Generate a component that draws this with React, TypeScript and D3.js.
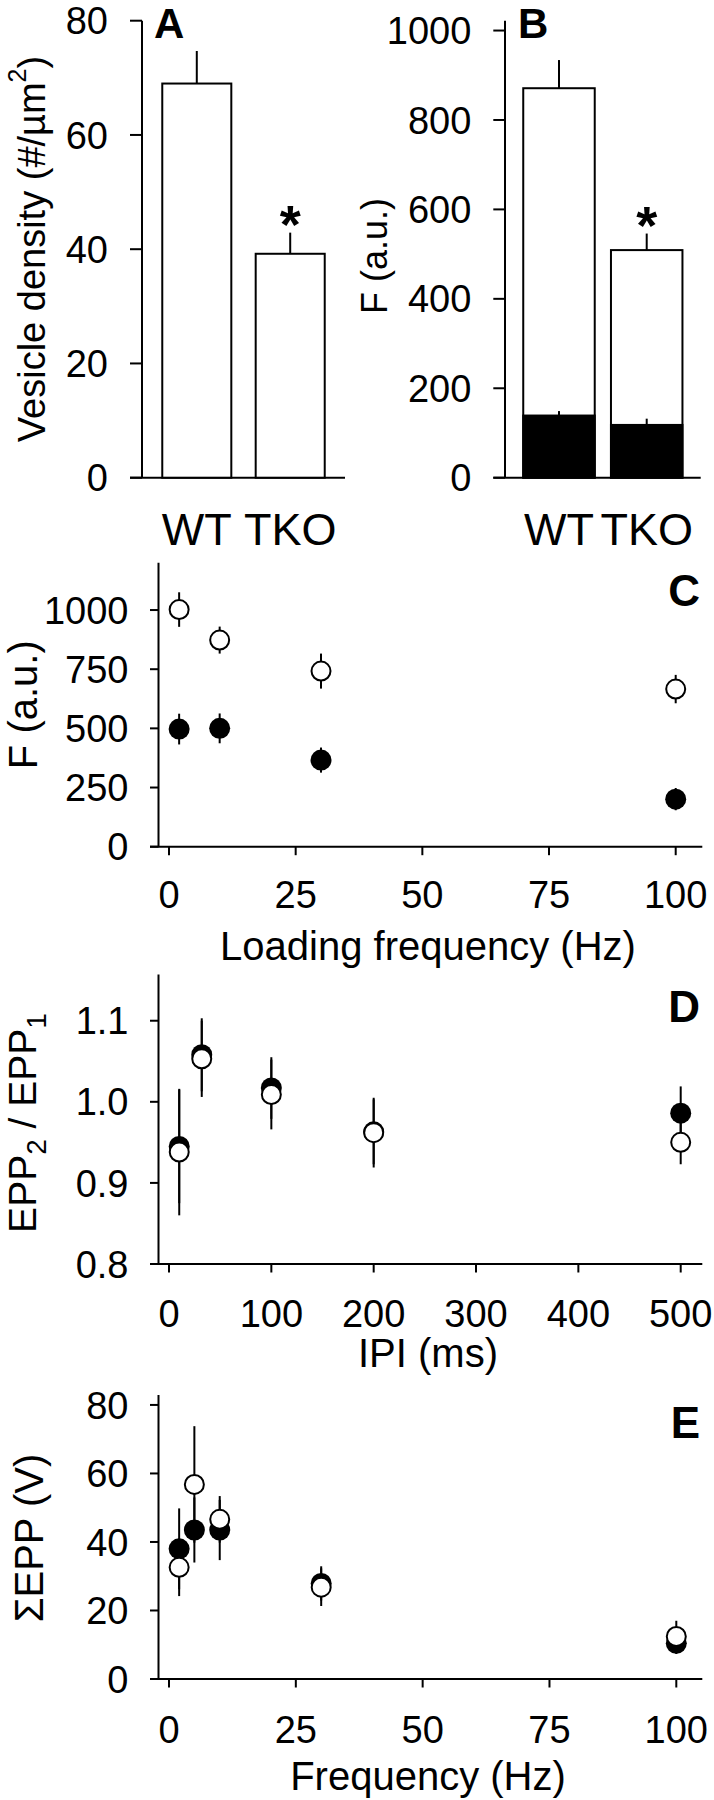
import React from "react";
import * as d3 from "d3";

const FONT = "'Liberation Sans', Arial, Helvetica, sans-serif";

// ---------- Data ----------
// Panel A
const groupsAB = ["WT", "TKO"];
const vesicleDensity = [69.0, 39.2];
const vesicleDensityErr = [5.7, 3.7];
const ticksA = [0, 20, 40, 60, 80];

// Panel B
const fTotal = [871, 509];
const fTotalErr = [63, 37];
const fBlack = [139, 118];
const fBlackErr = [10, 14];
const ticksB = [0, 200, 400, 600, 800, 1000];

// Panel C
const loadFreq = [2, 10, 30, 100];
const cOpen = [1002, 873, 742, 666];
const cOpenErr = [73, 57, 74, 60];
const cFilled = [497, 500, 366, 201];
const cFilledErr = [65, 63, 53, 47];
const ticksCx = [0, 25, 50, 75, 100];
const ticksCy = [0, 250, 500, 750, 1000];

// Panel D
const ipi = [10, 32, 100, 200, 500];
const dFilled = [0.945, 1.058, 1.017, 0.963, 0.986];
const dFilledErr = [0.07, 0.045, 0.038, 0.04, 0.033];
const dOpen = [0.938, 1.053, 1.009, 0.962, 0.95];
const dOpenErr = [0.078, 0.047, 0.043, 0.043, 0.027];
const ticksDx = [0, 100, 200, 300, 400, 500];
const ticksDy = [0.8, 0.9, 1.0, 1.1];

// Panel E
const stimFreq = [2, 5, 10, 30, 100];
const eFilled = [38, 43.5, 43.5, 27.9, 10.4];
const eFilledErr = [11.8, 9.5, 8.8, 5, 3.1];
const eOpen = [32.6, 56.8, 46.6, 26.8, 12.4];
const eOpenErr = [8.4, 17, 6.8, 5.5, 4.6];
const ticksEx = [0, 25, 50, 75, 100];
const ticksEy = [0, 20, 40, 60, 80];

const SW = 2;

function BarPanel(props: any) {
  const { y, x, ticks, axisX, axisLeft, axisRight, tickFs, children, ylabel, letter } = props;
  const y0 = y.range()[0];
  const yTop = y.range()[1];
  return (
    <g>
      <line x1={axisX} x2={axisX} y1={y0} y2={yTop} stroke="#000" strokeWidth={SW} />
      <line x1={axisLeft} x2={axisRight} y1={y0} y2={y0} stroke="#000" strokeWidth={SW} />
      {ticks.map((t: number) => (
        <g key={t}>
          <line x1={axisLeft} x2={axisX} y1={y(t)} y2={y(t)} stroke="#000" strokeWidth={SW} />
          <text x={axisLeft - 22} y={y(t)} dy="0.358em" textAnchor="end" fontSize={tickFs}>
            {t}
          </text>
        </g>
      ))}
      {children}
      {groupsAB.map((g) => (
        <text key={g} x={(x(g) as number) + x.bandwidth() / 2} y={545} textAnchor="middle" fontSize={45}>
          {g}
        </text>
      ))}
      {ylabel}
      {letter}
    </g>
  );
}

function Asterisk({ cx, errTop }: { cx: number; errTop: number }) {
  const fs = 54;
  return (
    <text x={cx} y={errTop - 20 + 0.56 * fs} textAnchor="middle" fontSize={fs} fontWeight="bold">
      *
    </text>
  );
}

function PanelA() {
  const y = d3.scaleLinear().domain([0, 80]).range([477.7, 20.7]);
  const x = d3.scaleBand<string>().domain(groupsAB).range([142, 345]).paddingInner(0.261).paddingOuter(0.217);
  const bw = x.bandwidth();
  return (
    <BarPanel
      y={y}
      x={x}
      ticks={ticksA}
      axisX={142}
      axisLeft={130}
      axisRight={345}
      tickFs={38}
      ylabel={
        <text transform="translate(45,249) rotate(-90)" textAnchor="middle" fontSize={38}>
          Vesicle density (#/µm
          <tspan fontSize={25} dy={-19}>2</tspan>
          <tspan dy={19}>)</tspan>
        </text>
      }
      letter={
        <text x={154} y={38} fontSize={42} fontWeight="bold">
          A
        </text>
      }
    >
      {groupsAB.map((g, i) => {
        const cx = (x(g) as number) + bw / 2;
        return (
          <g key={g}>
            <line x1={cx} x2={cx} y1={y(vesicleDensity[i])} y2={y(vesicleDensity[i] + vesicleDensityErr[i])} stroke="#000" strokeWidth={SW} />
            <rect
              x={x(g)}
              y={y(vesicleDensity[i])}
              width={bw}
              height={y(0) - y(vesicleDensity[i])}
              fill="#fff"
              stroke="#000"
              strokeWidth={SW}
            />
          </g>
        );
      })}
      <Asterisk cx={(x("TKO") as number) + bw / 2} errTop={y(vesicleDensity[1] + vesicleDensityErr[1])} />
    </BarPanel>
  );
}

function PanelB() {
  const y = d3.scaleLinear().domain([0, 1022]).range([477.7, 20.7]);
  const x = d3.scaleBand<string>().domain(groupsAB).range([505, 700.7]).paddingInner(0.185).paddingOuter(0.208);
  const bw = x.bandwidth();
  return (
    <BarPanel
      y={y}
      x={x}
      ticks={ticksB}
      axisX={505}
      axisLeft={493.3}
      axisRight={700.7}
      tickFs={38}
      ylabel={
        <text transform="translate(387,256) rotate(-90)" textAnchor="middle" fontSize={36}>
          F (a.u.)
        </text>
      }
      letter={
        <text x={518} y={38} fontSize={42} fontWeight="bold">
          B
        </text>
      }
    >
      {groupsAB.map((g, i) => {
        const cx = (x(g) as number) + bw / 2;
        return (
          <g key={g}>
            <line x1={cx} x2={cx} y1={y(fTotal[i])} y2={y(fTotal[i] + fTotalErr[i])} stroke="#000" strokeWidth={SW} />
            <rect x={x(g)} y={y(fTotal[i])} width={bw} height={y(0) - y(fTotal[i])} fill="#fff" stroke="#000" strokeWidth={SW} />
            <line x1={cx} x2={cx} y1={y(fBlack[i])} y2={y(fBlack[i] + fBlackErr[i])} stroke="#000" strokeWidth={SW} />
            <rect x={x(g)} y={y(fBlack[i])} width={bw} height={y(0) - y(fBlack[i])} fill="#000" stroke="#000" strokeWidth={SW} />
          </g>
        );
      })}
      <Asterisk cx={(x("TKO") as number) + bw / 2} errTop={y(fTotal[1] + fTotalErr[1])} />
    </BarPanel>
  );
}

function ScatterPanel(props: any) {
  const {
    x, y, xTicks, yTicks, fmtY, xs, filled, filledErr, open, openErr,
    tickLabelY, title, titleY, ylabel, letter, letterY,
  } = props;
  const y0 = y.range()[0];
  const yTop = y.range()[1];
  const axisX = 158.5;
  const left = 150;
  const right = 702.3;
  return (
    <g>
      <line x1={axisX} x2={axisX} y1={y0} y2={yTop} stroke="#000" strokeWidth={SW} />
      <line x1={left} x2={right} y1={y0} y2={y0} stroke="#000" strokeWidth={SW} />
      {yTicks.map((t: number) => (
        <g key={"y" + t}>
          <line x1={left} x2={axisX} y1={y(t)} y2={y(t)} stroke="#000" strokeWidth={SW} />
          <text x={128.5} y={y(t)} dy="0.358em" textAnchor="end" fontSize={38}>
            {fmtY(t)}
          </text>
        </g>
      ))}
      {xTicks.map((t: number) => (
        <g key={"x" + t}>
          <line x1={x(t)} x2={x(t)} y1={y0} y2={y0 + 8.5} stroke="#000" strokeWidth={SW} />
          <text x={x(t)} y={tickLabelY} textAnchor="middle" fontSize={38}>
            {t}
          </text>
        </g>
      ))}
      {xs.map((v: number, i: number) => (
        <g key={"e" + i}>
          <line x1={x(v)} x2={x(v)} y1={y(filled[i] - filledErr[i])} y2={y(filled[i] + filledErr[i])} stroke="#000" strokeWidth={SW} />
          <line x1={x(v)} x2={x(v)} y1={y(open[i] - openErr[i])} y2={y(open[i] + openErr[i])} stroke="#000" strokeWidth={SW} />
        </g>
      ))}
      {xs.map((v: number, i: number) => (
        <circle key={"f" + i} cx={x(v)} cy={y(filled[i])} r={10.5} fill="#000" />
      ))}
      {xs.map((v: number, i: number) => (
        <circle key={"o" + i} cx={x(v)} cy={y(open[i])} r={9.5} fill="#fff" stroke="#000" strokeWidth={2} />
      ))}
      <text x={428} y={titleY} textAnchor="middle" fontSize={40}>
        {title}
      </text>
      {ylabel}
      <text x={700} y={letterY} textAnchor="end" fontSize={44} fontWeight="bold">
        {letter}
      </text>
    </g>
  );
}

function PanelC() {
  const x = d3.scaleLinear().domain([0, 100]).range([169, 675.7]);
  const y = d3.scaleLinear().domain([0, 1200]).range([846.7, 562.7]);
  return (
    <ScatterPanel
      x={x}
      y={y}
      xTicks={ticksCx}
      yTicks={ticksCy}
      fmtY={(t: number) => String(t)}
      xs={loadFreq}
      filled={cFilled}
      filledErr={cFilledErr}
      open={cOpen}
      openErr={cOpenErr}
      tickLabelY={908.3}
      title="Loading frequency (Hz)"
      titleY={960}
      letter="C"
      letterY={606}
      ylabel={
        <text transform="translate(37,704.7) rotate(-90)" textAnchor="middle" fontSize={40}>
          F (a.u.)
        </text>
      }
    />
  );
}

function PanelD() {
  const x = d3.scaleLinear().domain([0, 500]).range([169, 680.7]);
  const y = d3.scaleLinear().domain([0.8, 1.157]).range([1264, 974.5]);
  return (
    <ScatterPanel
      x={x}
      y={y}
      xTicks={ticksDx}
      yTicks={ticksDy}
      fmtY={(t: number) => d3.format(".1f")(t)}
      xs={ipi}
      filled={dFilled}
      filledErr={dFilledErr}
      open={dOpen}
      openErr={dOpenErr}
      tickLabelY={1326.5}
      title="IPI (ms)"
      titleY={1366.5}
      letter="D"
      letterY={1021.5}
      ylabel={
        <text transform="translate(36,1123) rotate(-90)" textAnchor="middle" fontSize={39}>
          EPP
          <tspan fontSize={28} dy={10}>2</tspan>
          <tspan dy={-10}> / EPP</tspan>
          <tspan fontSize={28} dy={10}>1</tspan>
        </text>
      }
    />
  );
}

function PanelE() {
  const x = d3.scaleLinear().domain([0, 100]).range([169, 676.3]);
  const y = d3.scaleLinear().domain([0, 82.9]).range([1679, 1395]);
  return (
    <ScatterPanel
      x={x}
      y={y}
      xTicks={ticksEx}
      yTicks={ticksEy}
      fmtY={(t: number) => String(t)}
      xs={stimFreq}
      filled={eFilled}
      filledErr={eFilledErr}
      open={eOpen}
      openErr={eOpenErr}
      tickLabelY={1743.3}
      title="Frequency (Hz)"
      titleY={1790}
      letter="E"
      letterY={1438.3}
      ylabel={
        <text transform="translate(43,1538) rotate(-90)" textAnchor="middle" fontSize={40}>
          ΣEPP (V)
        </text>
      }
    />
  );
}

export default function App() {
  return (
    <div style={{ position: "absolute", left: 0, top: 0, width: 714, height: 1800, background: "#fff" }}>
      <svg width={714} height={1800} viewBox="0 0 714 1800" style={{ display: "block" }} fontFamily={FONT}>
        <rect x={0} y={0} width={714} height={1800} fill="#fff" />
        <PanelA />
        <PanelB />
        <PanelC />
        <PanelD />
        <PanelE />
      </svg>
    </div>
  );
}
